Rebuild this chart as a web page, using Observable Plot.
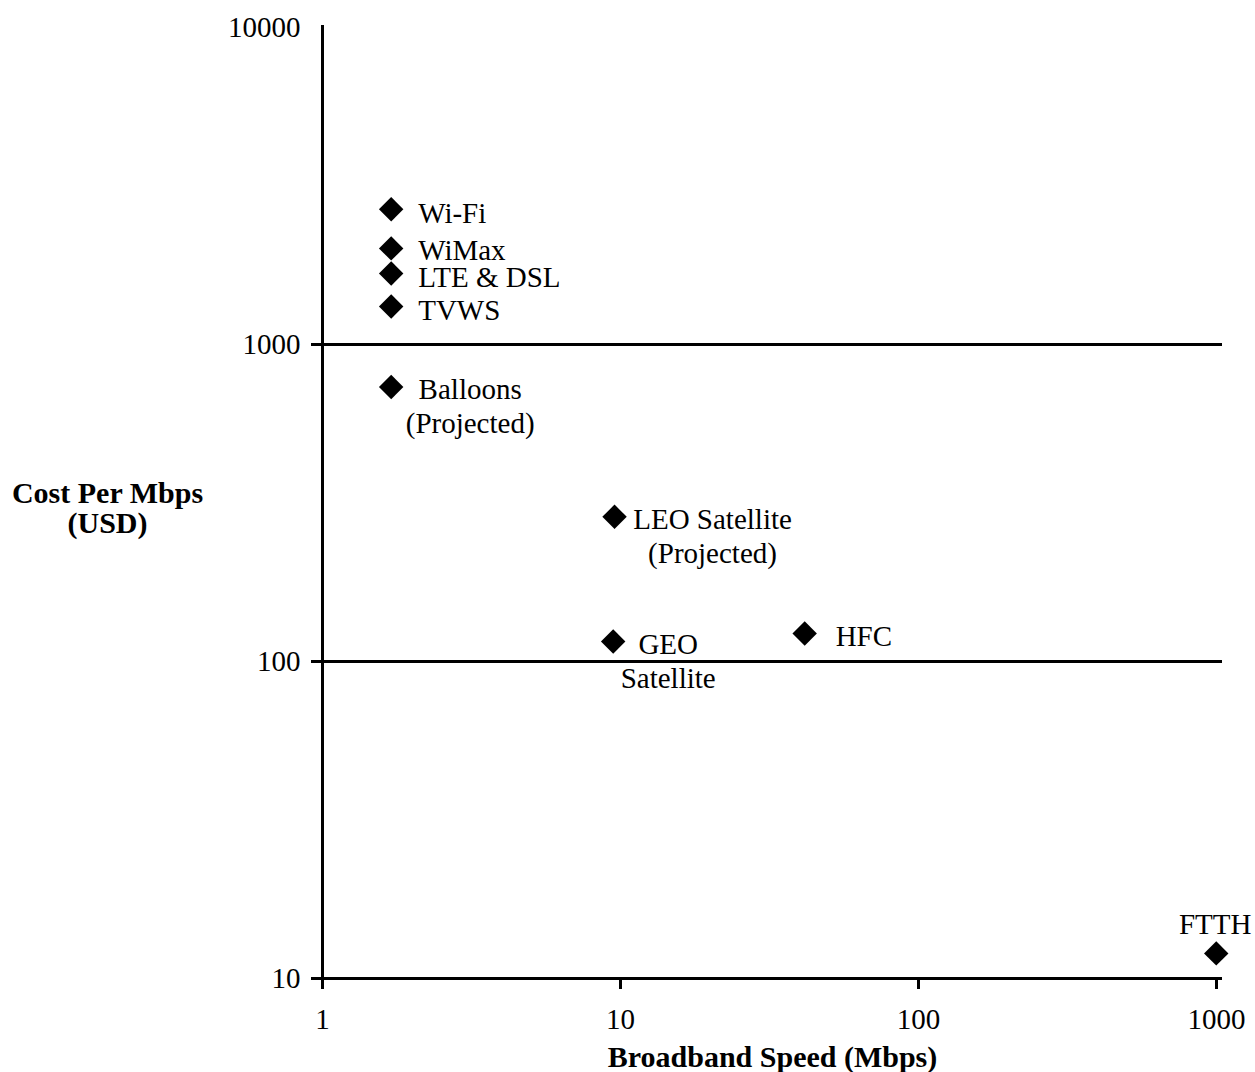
<!DOCTYPE html>
<html><head><meta charset="utf-8">
<script src="https://cdn.jsdelivr.net/npm/d3@7"></script>
<script src="https://cdn.jsdelivr.net/npm/@observablehq/plot@0.6"></script>
<style>html,body{margin:0;padding:0;background:#fff;} #chart svg{display:block;}</style>
</head><body><div id="chart"></div>
<script>
// ---- data ----
const technologies = ["Wi-Fi", "WiMax", "LTE & DSL", "TVWS", "Balloons\n(Projected)", "LEO Satellite\n(Projected)", "GEO\nSatellite", "HFC", "FTTH"];
const speedMbps = [1.7, 1.7, 1.7, 1.7, 1.7, 9.55, 9.45, 41.5, 998];
const costPerMbps = [2670, 2010, 1675, 1318, 734, 286, 115.6, 122.5, 12];
const xTicks = [1, 10, 100, 1000];
const yTicks = [10, 100, 1000, 10000];
const gridValues = [10, 100, 1000];
const xTitle = "Broadband Speed (Mbps)";
const yTitle = "Cost Per Mbps\n(USD)";

const data = technologies.map((name, i) => ({name, speed: speedMbps[i], cost: costPerMbps[i]}));

// ---- label layout (placement styles, not data) ----
const labelLayout = {
  "Wi-Fi": {textAnchor: "start", dx: 27, dy: 2.5},
  "WiMax": {textAnchor: "start", dx: 27, dy: 0.5},
  "LTE & DSL": {textAnchor: "start", dx: 27, dy: 2.5},
  "TVWS": {textAnchor: "start", dx: 27, dy: 3},
  "Balloons\n(Projected)": {textAnchor: "middle", dx: 79, dy: 18},
  "LEO Satellite\n(Projected)": {textAnchor: "middle", dx: 98, dy: 18},
  "GEO\nSatellite": {textAnchor: "middle", dx: 55, dy: 19},
  "HFC": {textAnchor: "start", dx: 31, dy: 2},
  "FTTH": {textAnchor: "middle", dx: -1, dy: -30}
};

const font = '"Liberation Serif", "Times New Roman", Times, serif';
const FS = 29;
const TFS = 30;

const chart = Plot.plot({
  width: 1255,
  height: 1072,
  marginLeft: 322,
  marginRight: 39,
  marginTop: 27,
  marginBottom: 94,
  style: {fontFamily: font, fontSize: FS + "px", color: "black", background: "white"},
  x: {type: "log", domain: [1, 1000]},
  y: {type: "log", domain: [10, 10000]},
  marks: [
    Plot.ruleY(gridValues, {stroke: "black", strokeWidth: 3, insetLeft: -11, insetRight: -6}),
    Plot.ruleX([1], {stroke: "black", strokeWidth: 3, insetTop: -2, insetBottom: -1}),
    Plot.axisX(xTicks, {tickSize: 11, tickPadding: 19, strokeWidth: 3, tickFormat: d => String(d), label: null, fontSize: FS}),
    Plot.axisY(yTicks, {tickSize: 0, tickPadding: 22, tickFormat: d => String(d), label: null, fontSize: FS}),
    Plot.dot(data, {x: "speed", y: "cost", symbol: "diamond2", r: 11, fill: "black", stroke: "none"}),
    ...data.map(d => Plot.text([d], {x: "speed", y: "cost", text: "name", fill: "black", fontSize: FS, lineHeight: 1.17, ...labelLayout[d.name]})),
    Plot.text([xTitle], {frameAnchor: "bottom", text: d => d, textAnchor: "middle", dx: 3, dy: 88, fontWeight: "bold", fontSize: TFS, fill: "black"}),
    Plot.text([yTitle], {frameAnchor: "left", text: d => d, textAnchor: "middle", dx: -215, dy: 5, fontWeight: "bold", fontSize: TFS, lineHeight: 1.0, fill: "black"})
  ]
});
document.getElementById("chart").append(chart);
</script>
</body></html>
